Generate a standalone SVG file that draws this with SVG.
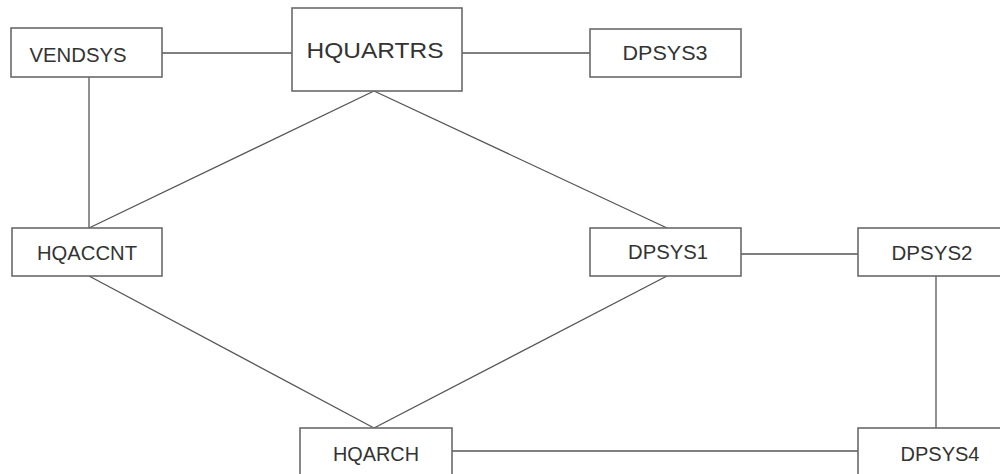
<svg xmlns="http://www.w3.org/2000/svg" width="1000" height="474" viewBox="0 0 1000 474">
<style>
.box{fill:#fff;stroke:#6a6a6a;stroke-width:1.6}
.lbl{font-family:"Liberation Sans",Arial,sans-serif;font-size:20px;fill:#333;text-anchor:middle}
.big{font-size:22px}
.edge{stroke:#555;stroke-width:1.3;fill:none}
</style>
<rect width="1000" height="474" fill="#fff"/>
<g id="connectors">
<line class="edge" x1="162" y1="53" x2="292" y2="53"/>
<line class="edge" x1="462" y1="53" x2="590" y2="53"/>
<line class="edge" x1="89" y1="77" x2="89" y2="228"/>
<line class="edge" x1="374" y1="91" x2="89" y2="228"/>
<line class="edge" x1="374" y1="91" x2="667" y2="228"/>
<line class="edge" x1="741" y1="254" x2="858" y2="254"/>
<line class="edge" x1="89" y1="276" x2="374" y2="428"/>
<line class="edge" x1="667" y1="276" x2="374" y2="428"/>
<line class="edge" x1="936" y1="276" x2="936" y2="428"/>
<line class="edge" x1="452" y1="451" x2="858" y2="451"/>
</g>
<g id="VENDSYS">
<rect class="box" x="11" y="28" width="151" height="49"/>
<text class="lbl" x="78" y="62" textLength="97" lengthAdjust="spacingAndGlyphs">VENDSYS</text>
</g>
<g id="HQUARTRS">
<rect class="box" x="292" y="8" width="170" height="83"/>
<text class="lbl big" x="375" y="58" textLength="137" lengthAdjust="spacingAndGlyphs">HQUARTRS</text>
</g>
<g id="DPSYS3">
<rect class="box" x="590" y="29" width="151" height="48"/>
<text class="lbl" x="665" y="60" textLength="85" lengthAdjust="spacingAndGlyphs">DPSYS3</text>
</g>
<g id="HQACCNT">
<rect class="box" x="12" y="228" width="150" height="48"/>
<text class="lbl" x="87" y="260" textLength="100" lengthAdjust="spacingAndGlyphs">HQACCNT</text>
</g>
<g id="DPSYS1">
<rect class="box" x="590" y="228" width="151" height="48"/>
<text class="lbl" x="668" y="259" textLength="80" lengthAdjust="spacingAndGlyphs">DPSYS1</text>
</g>
<g id="DPSYS2">
<rect class="box" x="858" y="228" width="160" height="48"/>
<text class="lbl" x="932" y="260" textLength="81" lengthAdjust="spacingAndGlyphs">DPSYS2</text>
</g>
<g id="HQARCH">
<rect class="box" x="300" y="428" width="152" height="60"/>
<text class="lbl" x="376" y="461" textLength="86" lengthAdjust="spacingAndGlyphs">HQARCH</text>
</g>
<g id="DPSYS4">
<rect class="box" x="858" y="428" width="160" height="60"/>
<text class="lbl" x="940" y="461" textLength="79" lengthAdjust="spacingAndGlyphs">DPSYS4</text>
</g>
</svg>
